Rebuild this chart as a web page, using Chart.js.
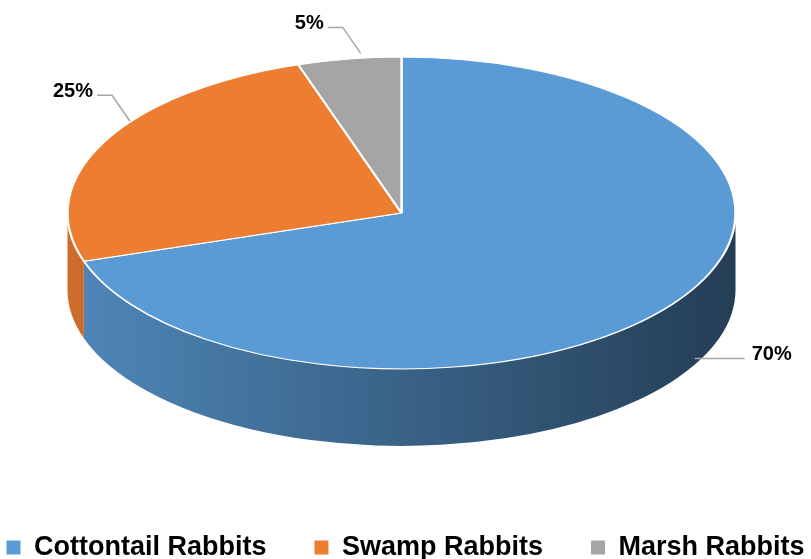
<!DOCTYPE html>
<html>
<head>
<meta charset="utf-8">
<script src="https://cdn.jsdelivr.net/npm/chart.js@4"></script>
<style>
  html, body { margin: 0; padding: 0; background: #fff; }
  #wrap { width: 811px; height: 559px; }
</style>
</head>
<body>
<div id="wrap"><canvas id="myChart"></canvas></div>
<script>
const categories = ['Cottontail Rabbits', 'Swamp Rabbits', 'Marsh Rabbits'];
const shares = [70, 25, 5];
const percentLabels = ['70%', '25%', '5%'];
const sliceColors = ['#5b9bd5', '#ed7d31', '#a5a5a5'];

// look of the tilted pie
const PIE_WIDTH = 668;
const PIE_TILT = 0.467;
const PIE_DEPTH = 77;
const PIE_SHIFT_X = -4;

function shade(hex, f) {
  const n = parseInt(hex.slice(1), 16);
  const r = Math.round(((n >> 16) & 255) * f);
  const g = Math.round(((n >> 8) & 255) * f);
  const b = Math.round((n & 255) * f);
  return 'rgb(' + r + ',' + g + ',' + b + ')';
}

function ellipseOf(chart) {
  const arc = chart.getDatasetMeta(0).data[0];
  const rx = PIE_WIDTH / 2;
  const ry = rx * PIE_TILT;
  return { cx: arc.x + PIE_SHIFT_X, cy: chart.chartArea.top + ry, rx: rx, ry: ry, R: arc.outerRadius, ox: arc.x, oy: arc.y };
}

const tiltPlugin = {
  id: 'tilt',
  beforeDatasetsDraw(chart) {
    const ctx = chart.ctx;
    const e = ellipseOf(chart);
    const arcs = chart.getDatasetMeta(0).data;

    // side wall of the front half
    arcs.forEach(function (arc, i) {
      const s = Math.max(arc.startAngle, 0);
      const t = Math.min(arc.endAngle, Math.PI);
      if (t <= s) return;
      const grad = ctx.createLinearGradient(e.cx - e.rx, 0, e.cx + e.rx, 0);
      grad.addColorStop(0, shade(sliceColors[i], 0.87));
      grad.addColorStop(1, shade(sliceColors[i], 0.4));
      ctx.save();
      ctx.beginPath();
      ctx.ellipse(e.cx, e.cy, e.rx, e.ry, 0, s, t, false);
      ctx.ellipse(e.cx, e.cy + PIE_DEPTH, e.rx, e.ry, 0, t, s, true);
      ctx.closePath();
      ctx.fillStyle = grad;
      ctx.fill();
      ctx.restore();
    });

    // squash the top face
    ctx.save();
    ctx.translate(e.cx, e.cy);
    ctx.scale(e.rx / e.R, e.ry / e.R);
    ctx.translate(-e.ox, -e.oy);
  },
  afterDatasetsDraw(chart) {
    const ctx = chart.ctx;
    ctx.restore();
    const e = ellipseOf(chart);
    const arcs = chart.getDatasetMeta(0).data;

    ctx.save();
    ctx.font = 'bold 20px "Liberation Sans", Arial, sans-serif';
    ctx.fillStyle = '#000';
    ctx.strokeStyle = '#a6a6a6';
    ctx.lineWidth = 1.5;
    ctx.textBaseline = 'middle';
    arcs.forEach(function (arc, i) {
      const a = (arc.startAngle + arc.endAngle) / 2;
      const c = Math.cos(a), s = Math.sin(a);
      const dir = c >= 0 ? 1 : -1;
      let ax = e.cx + e.rx * c;
      let ay = e.cy + e.ry * s;
      let ex, ey, len, gap;
      if (s > 0) {
        ax += 23;
        ay += PIE_DEPTH * 0.7;
        ex = ax; ey = ay; len = 50; gap = 7;
      } else {
        ax += 11 + 19 * c * c;
        ay -= 5 + 20 * c * c;
        ex = ax - 18; ey = ay - 26; len = 15; gap = 4;
      }
      ctx.beginPath();
      ctx.moveTo(ax, ay);
      ctx.lineTo(ex, ey);
      ctx.lineTo(ex + dir * len, ey);
      ctx.stroke();
      ctx.textAlign = dir > 0 ? 'left' : 'right';
      ctx.fillText(percentLabels[i], ex + dir * (len + gap), ey - 4);
    });
    ctx.restore();
  }
};

const ctx = document.getElementById('myChart').getContext('2d');
new Chart(ctx, {
  type: 'pie',
  data: {
    labels: categories,
    datasets: [{
      data: shares,
      backgroundColor: sliceColors,
      borderColor: '#ffffff',
      borderWidth: 1.5,
      clip: false
    }]
  },
  options: {
    responsive: true,
    maintainAspectRatio: false,
    animation: false,
    events: [],
    layout: { padding: { top: 57, bottom: -12, left: -50, right: -50 } },
    plugins: {
      tooltip: { enabled: false },
      legend: {
        position: 'bottom',
        labels: {
          color: '#000',
          font: { family: '"Liberation Sans", Arial, sans-serif', size: 27, weight: 'bold' },
          boxWidth: 14,
          boxHeight: 14,
          padding: 48,
          generateLabels: function (chart) {
            const items = Chart.overrides.doughnut.plugins.legend.labels.generateLabels(chart);
            items.forEach(function (it) { it.lineWidth = 0; it.strokeStyle = 'rgba(0,0,0,0)'; });
            return items;
          }
        }
      }
    }
  },
  plugins: [tiltPlugin]
});
</script>
</body>
</html>
